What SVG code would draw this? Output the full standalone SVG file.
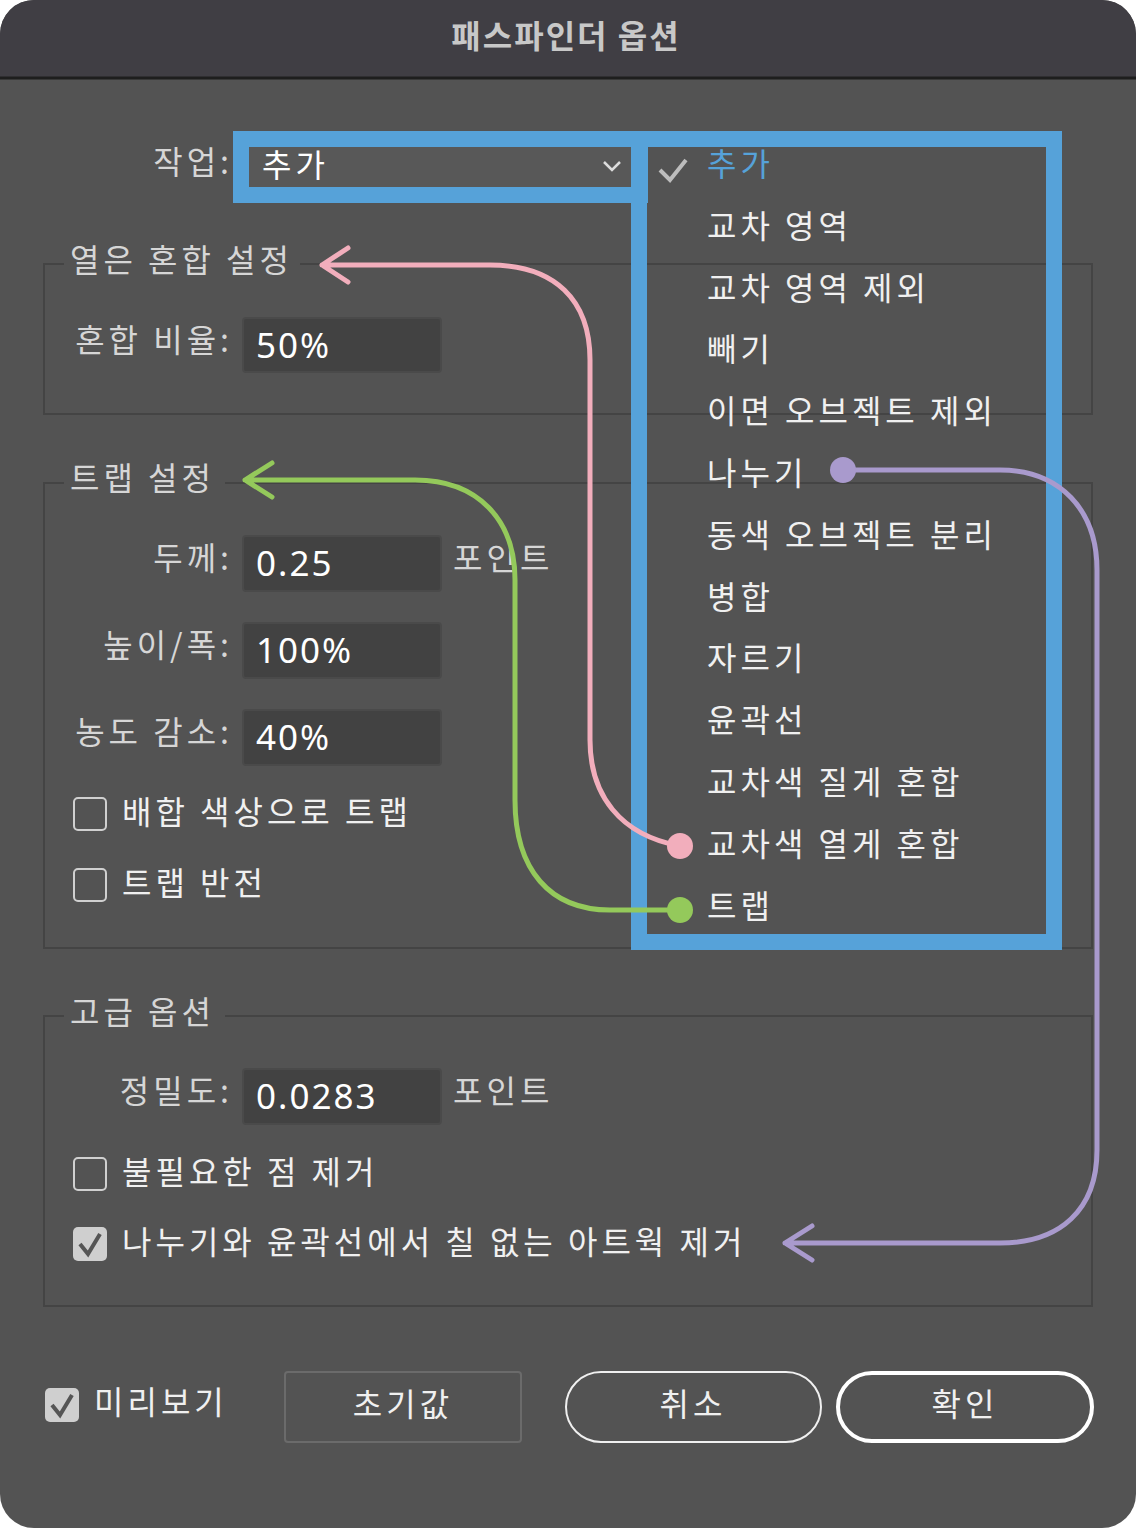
<svg xmlns="http://www.w3.org/2000/svg" width="1136" height="1528" viewBox="0 0 1136 1528">
<style>
text{font-family:"Noto Sans CJK KR","Noto Sans",sans-serif}
.lb{fill:#d6d6d6;font-size:32px;letter-spacing:4px}
.val{fill:#fff;font-size:35px;letter-spacing:2px;font-family:"Noto Sans","Noto Sans CJK KR",sans-serif}
.mi{fill:#f0f0f0;font-size:32px;letter-spacing:4px}
.grp{fill:none;stroke:#444;stroke-width:2}
.fld{fill:#424242;stroke:#4a4a4a;stroke-width:2}
.cb{fill:none;stroke:#d0d0d0;stroke-width:2}
.blue{fill:none;stroke:#56a2d9;stroke-width:16}
.cn{fill:none;stroke-width:5;stroke-linecap:round;stroke-linejoin:round}
</style>
<clipPath id="win"><rect x="0" y="0" width="1136" height="1528" rx="34"/></clipPath>
<g clip-path="url(#win)">
<rect width="1136" height="1528" fill="#535353"/>
<rect width="1136" height="78" fill="#403e44"/>
<line x1="0" y1="78" x2="1136" y2="78" stroke="#1e1e1e" stroke-width="3"/>
</g>
<text x="566" y="48" text-anchor="middle" fill="#c8c8c8" font-size="32" font-weight="bold" letter-spacing="2">패스파인더 옵션</text>

<g id="groups">
<path class="grp" d="M64,264 H44 V414 H1092 V264 H300"/>
<text class="lb" x="70" y="272">열은 혼합 설정</text>
<path class="grp" d="M64,483 H44 V948 H1092 V483 H225"/>
<text class="lb" x="70" y="490">트랩 설정</text>
<path class="grp" d="M64,1016 H44 V1306 H1092 V1016 H225"/>
<text class="lb" x="70" y="1024">고급 옵션</text>
</g>

<g id="operation">
<text class="lb" x="233" y="174" text-anchor="end">작업:</text>
<rect x="249" y="147" width="383" height="40" fill="#585858"/>
<text class="mi" x="262" y="177" style="fill:#fff">추가</text>
<path d="M604,162 L612,170 L620,162" fill="none" stroke="#ddd" stroke-width="2.5"/>
<rect class="blue" x="241" y="139" width="399" height="56"/>
</g>

<g id="menu">
<rect class="blue" x="639" y="139" width="415" height="803"/>
<path d="M660,170 L670,180 L686,160" fill="none" stroke="#bdbdbd" stroke-width="4"/>
<text class="mi" x="707" y="176" style="fill:#56a2d9">추가</text>
<text class="mi" x="707" y="238">교차 영역</text>
<text class="mi" x="707" y="300">교차 영역 제외</text>
<text class="mi" x="707" y="361">빼기</text>
<text class="mi" x="707" y="423">이면 오브젝트 제외</text>
<text class="mi" x="707" y="485">나누기</text>
<text class="mi" x="707" y="547">동색 오브젝트 분리</text>
<text class="mi" x="707" y="609">병합</text>
<text class="mi" x="707" y="670">자르기</text>
<text class="mi" x="707" y="732">윤곽선</text>
<text class="mi" x="707" y="794">교차색 질게 혼합</text>
<text class="mi" x="707" y="856">교차색 열게 혼합</text>
<text class="mi" x="707" y="918">트랩</text>
</g>

<g id="fields">
<text class="lb" x="233" y="352" text-anchor="end">혼합 비율:</text>
<rect class="fld" x="243" y="318" width="198" height="54" rx="3"/>
<text class="val" x="256" y="358">50%</text>
<text class="lb" x="233" y="570" text-anchor="end">두께:</text>
<rect class="fld" x="243" y="536" width="198" height="55" rx="3"/>
<text class="val" x="256" y="576">0.25</text>
<text class="lb" x="453" y="570">포인트</text>
<text class="lb" x="233" y="657" text-anchor="end">높이/폭:</text>
<rect class="fld" x="243" y="623" width="198" height="55" rx="3"/>
<text class="val" x="256" y="663">100%</text>
<text class="lb" x="233" y="744" text-anchor="end">농도 감소:</text>
<rect class="fld" x="243" y="710" width="198" height="55" rx="3"/>
<text class="val" x="256" y="750">40%</text>
<text class="lb" x="233" y="1103" text-anchor="end">정밀도:</text>
<rect class="fld" x="243" y="1069" width="198" height="55" rx="3"/>
<text class="val" x="256" y="1109">0.0283</text>
<text class="lb" x="453" y="1103">포인트</text>
</g>

<g id="checks">
<rect class="cb" x="74" y="798" width="32" height="32" rx="4"/>
<text class="mi" x="122" y="824">배합 색상으로 트랩</text>
<rect class="cb" x="74" y="869" width="32" height="32" rx="4"/>
<text class="mi" x="122" y="895">트랩 반전</text>
<rect class="cb" x="74" y="1158" width="32" height="32" rx="4"/>
<text class="mi" x="122" y="1184">불필요한 점 제거</text>
<rect x="73" y="1227" width="34" height="34" rx="5" fill="#cfcfcf"/>
<path d="M80,1244 L88,1254 L100,1234" fill="none" stroke="#555" stroke-width="4"/>
<text class="mi" x="122" y="1254">나누기와 윤곽선에서 칠 없는 아트웍 제거</text>
<rect x="45" y="1388" width="34" height="34" rx="5" fill="#cfcfcf"/>
<path d="M52,1405 L60,1415 L72,1395" fill="none" stroke="#555" stroke-width="4"/>
<text class="mi" x="94" y="1414">미리보기</text>
</g>

<g id="buttons">
<rect x="285" y="1372" width="236" height="70" rx="3" fill="none" stroke="#6b6b6b" stroke-width="2"/>
<text class="mi" x="403" y="1416" text-anchor="middle">초기값</text>
<rect x="566" y="1372" width="255" height="70" rx="35" fill="none" stroke="#f0f0f0" stroke-width="2"/>
<text class="mi" x="693" y="1416" text-anchor="middle">취소</text>
<rect x="838" y="1373" width="254" height="68" rx="34" fill="none" stroke="#fff" stroke-width="4"/>
<text class="mi" x="965" y="1416" text-anchor="middle">확인</text>
</g>

<g id="connectors">
<path class="cn" stroke="#f2aebc" d="M680,846 C620,835 590,795 590,740 L590,360 C590,300 555,265 490,265 L322,265 M348,248 L322,265 L348,282"/>
<circle cx="680" cy="846" r="13" fill="#f2aebc"/>
<path class="cn" stroke="#94c95b" d="M680,910 L610,910 C550,910 515,870 515,800 L515,580 C515,520 478,480 415,480 L245,480 M272,463 L245,480 L272,497"/>
<circle cx="680" cy="910" r="13" fill="#94c95b"/>
<path class="cn" stroke="#a99acd" d="M843,470 L1000,470 C1060,470 1097,510 1097,570 L1097,1150 C1097,1210 1060,1243 1000,1243 L785,1243 M812,1226 L785,1243 L812,1260"/>
<circle cx="843" cy="470" r="13" fill="#a99acd"/>
</g>
</svg>
